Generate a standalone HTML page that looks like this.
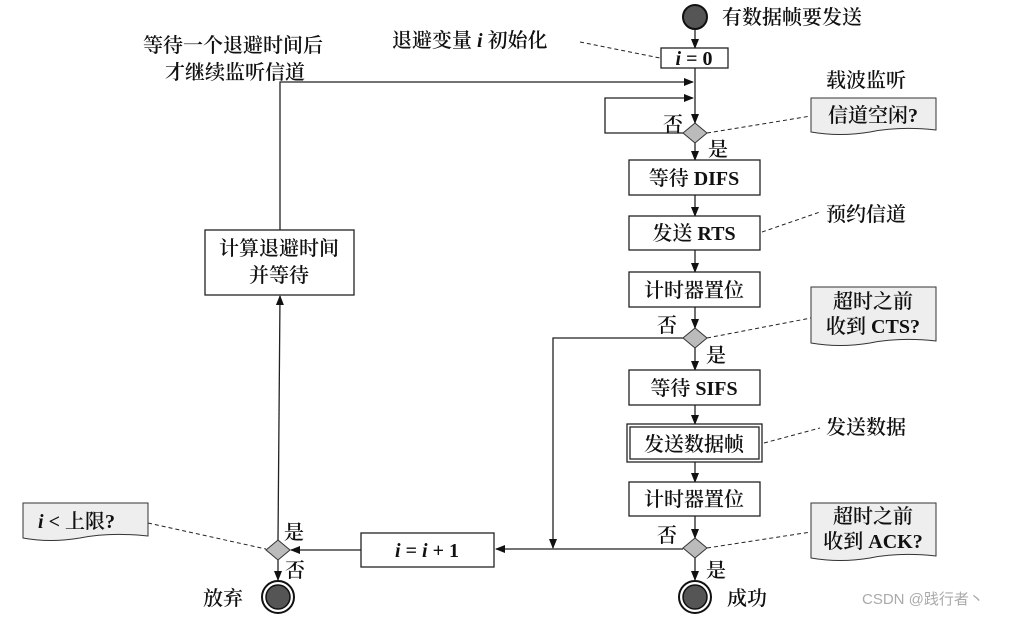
<!DOCTYPE html>
<html><head><meta charset="utf-8"><style>
html,body{margin:0;padding:0;background:#fff}
svg{display:block}
text{font-family:"Liberation Serif","Noto Serif CJK SC",serif;font-size:20px;fill:#111;font-weight:600}
.b{font-weight:bold}
</style></head><body>
<svg width="1009" height="617" viewBox="0 0 1009 617" xmlns="http://www.w3.org/2000/svg">
<defs><marker id="a" markerWidth="10" markerHeight="10" refX="9" refY="5" orient="auto" markerUnits="userSpaceOnUse"><path d="M0,1 L10,5 L0,9 z" fill="#111"/></marker></defs>
<g stroke="#222" stroke-width="1.3" fill="none">
<line x1="695" y1="30" x2="695" y2="48" marker-end="url(#a)"/>
<line x1="695" y1="68" x2="695" y2="123" marker-end="url(#a)"/>
<polyline points="280,230 280,82 693,82" marker-end="url(#a)"/>
<polyline points="683,133 605,133 605,98 693,98" marker-end="url(#a)"/>
<line x1="695" y1="143" x2="695" y2="160" marker-end="url(#a)"/>
<line x1="695" y1="195" x2="695" y2="216" marker-end="url(#a)"/>
<line x1="695" y1="250" x2="695" y2="272" marker-end="url(#a)"/>
<line x1="695" y1="307" x2="695" y2="328" marker-end="url(#a)"/>
<polyline points="683,338 553,338 553,548" marker-end="url(#a)"/>
<line x1="695" y1="348" x2="695" y2="370" marker-end="url(#a)"/>
<line x1="695" y1="405" x2="695" y2="424" marker-end="url(#a)"/>
<line x1="695" y1="462" x2="695" y2="482" marker-end="url(#a)"/>
<line x1="695" y1="516" x2="695" y2="538" marker-end="url(#a)"/>
<line x1="683" y1="549" x2="496" y2="549" marker-end="url(#a)"/>
<line x1="361" y1="550" x2="291" y2="550" marker-end="url(#a)"/>
<line x1="278" y1="560" x2="278" y2="580" marker-end="url(#a)"/>
<line x1="278" y1="540" x2="280" y2="296" marker-end="url(#a)"/>
<line x1="695" y1="558" x2="695" y2="580" marker-end="url(#a)"/>
</g>
<g stroke="#222" stroke-width="1" stroke-dasharray="4,3" fill="none">
<line x1="580" y1="42" x2="660" y2="58"/>
<line x1="707" y1="133" x2="811" y2="116"/>
<line x1="762" y1="232" x2="820" y2="212"/>
<line x1="707" y1="338" x2="811" y2="318"/>
<line x1="764" y1="443" x2="820" y2="428"/>
<line x1="707" y1="548" x2="811" y2="532"/>
<line x1="148" y1="523" x2="266" y2="549"/>
</g>
<circle cx="695" cy="17" r="12" fill="#555" stroke="#111" stroke-width="2"/>
<g fill="#fff" stroke="#222" stroke-width="1.3">
<rect x="661" y="48" width="67" height="20"/>
<rect x="629" y="160" width="131" height="35"/>
<rect x="629" y="216" width="131" height="34"/>
<rect x="629" y="272" width="131" height="35"/>
<rect x="629" y="370" width="131" height="35"/>
<rect x="627" y="424" width="135" height="38"/>
<rect x="630" y="427" width="129" height="32"/>
<rect x="629" y="482" width="131" height="34"/>
<rect x="361" y="533" width="133" height="34"/>
<rect x="205" y="230" width="149" height="65"/>
</g>
<g fill="#bbb" stroke="#333" stroke-width="1">
<polygon points="695,123 707,133 695,143 683,133"/>
<polygon points="695,328 707,338 695,348 683,338"/>
<polygon points="695,538 707,548 695,558 683,548"/>
<polygon points="278,540 290,550 278,560 266,550"/>
</g>
<g fill="#eee" stroke="#333" stroke-width="1">
<path d="M811,98 H936 V130 Q900,126 870,132 Q840,137 811,132 Z"/>
<path d="M811,287 H936 V341 Q900,337 870,343 Q840,348 811,343 Z"/>
<path d="M811,503 H936 V556 Q900,552 870,558 Q840,563 811,558 Z"/>
<path d="M23,503 H148 V536 Q110,532 80,538 Q50,543 23,538 Z"/>
</g>
<g stroke="#111" stroke-width="1.5">
<circle cx="695" cy="597" r="16" fill="#fff" stroke-width="2"/>
<circle cx="695" cy="597" r="12" fill="#555"/>
<circle cx="278" cy="597" r="16" fill="#fff" stroke-width="2"/>
<circle cx="278" cy="597" r="12" fill="#555"/>
</g>
<text x="722" y="24">有数据帧要发送</text>
<text x="392" y="47">退避变量 <tspan class="b" font-style="italic">i</tspan> 初始化</text>
<text x="143" y="52">等待一个退避时间后</text>
<text x="165" y="79">才继续监听信道</text>
<text x="694" y="65" class="b" text-anchor="middle" font-size="18"><tspan font-style="italic">i</tspan> = 0</text>
<text x="826" y="87">载波监听</text>
<text x="873" y="122" text-anchor="middle">信道空闲?</text>
<text x="663" y="131">否</text>
<text x="708" y="156">是</text>
<text x="694" y="185" text-anchor="middle">等待 <tspan class="b">DIFS</tspan></text>
<text x="826" y="221">预约信道</text>
<text x="694" y="240" text-anchor="middle">发送 <tspan class="b">RTS</tspan></text>
<text x="694" y="297" text-anchor="middle">计时器置位</text>
<text x="873" y="308" text-anchor="middle">超时之前</text>
<text x="873" y="333" text-anchor="middle">收到 <tspan class="b">CTS?</tspan></text>
<text x="657" y="332">否</text>
<text x="706" y="362">是</text>
<text x="694" y="395" text-anchor="middle">等待 <tspan class="b">SIFS</tspan></text>
<text x="826" y="434">发送数据</text>
<text x="694" y="451" text-anchor="middle">发送数据帧</text>
<text x="694" y="506" text-anchor="middle">计时器置位</text>
<text x="873" y="523" text-anchor="middle">超时之前</text>
<text x="873" y="548" text-anchor="middle">收到 <tspan class="b">ACK?</tspan></text>
<text x="657" y="542">否</text>
<text x="706" y="577">是</text>
<text x="427" y="557" class="b" text-anchor="middle" font-size="18"><tspan font-style="italic">i</tspan> = <tspan font-style="italic">i</tspan> + 1</text>
<text x="279" y="255" text-anchor="middle">计算退避时间</text>
<text x="279" y="282" text-anchor="middle">并等待</text>
<text x="38" y="528"><tspan class="b" font-style="italic">i</tspan> <tspan class="b">&lt;</tspan> 上限?</text>
<text x="284" y="539">是</text>
<text x="285" y="577">否</text>
<text x="203" y="605">放弃</text>
<text x="727" y="605">成功</text>
<text x="862" y="604" style="font-family:'Liberation Sans','Noto Sans CJK SC',sans-serif;font-size:15px;fill:#aaa;font-weight:normal">CSDN @践行者丶</text>
</svg>
</body></html>
